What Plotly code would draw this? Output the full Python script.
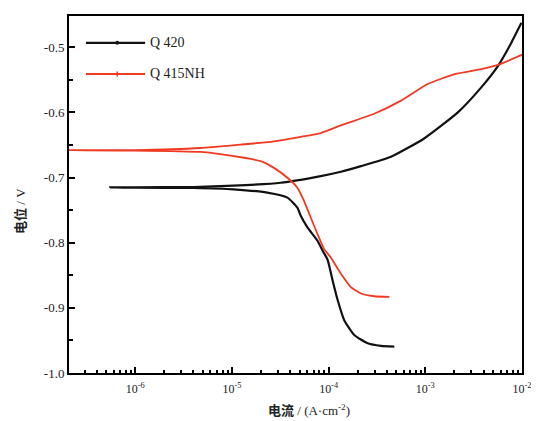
import plotly.graph_objects as go

# Q420 polarization curve: current density (A/cm^2) and potential (V)
q420_current = [4.78e-4, 3.48e-4, 2.54e-4, 1.84e-4, 1.45e-4, 1.24e-4, 1.10e-4, 9.75e-5,
                8.65e-5, 7.67e-5, 6.04e-5, 5.15e-5, 4.75e-5, 3.75e-5, 2.32e-5, 1.04e-5,
                4.0e-6, 1.0e-6, 5.5e-7, 1.0e-6, 4.0e-6, 1.04e-5, 3.19e-5, 8.30e-5,
                1.34e-4, 2.16e-4, 4.42e-4, 9.73e-4, 2.17e-3, 3.79e-3, 5.65e-3, 7.76e-3, 9.86e-3]
q420_potential = [-0.9595, -0.9584, -0.9543, -0.9416, -0.919, -0.888, -0.858, -0.826,
                  -0.812, -0.797, -0.7765, -0.7587, -0.746, -0.7308, -0.7232, -0.718,
                  -0.716, -0.7155, -0.7152, -0.7150, -0.7145, -0.7125, -0.708, -0.6977,
                  -0.691, -0.6825, -0.668, -0.640, -0.600, -0.5616, -0.5285, -0.493, -0.4625]

# Q415NH polarization curve
q415_current = [4.25e-4, 2.96e-4, 2.16e-4, 1.70e-4, 1.34e-4, 1.05e-4, 8.97e-5, 7.67e-5,
                6.53e-5, 5.57e-5, 4.75e-5, 3.75e-5, 2.72e-5, 1.98e-5, 1.05e-5, 4.72e-6,
                1.0e-6, 1.9e-7, 1.0e-6, 4.72e-6, 1.23e-5, 2.51e-5, 5.15e-5, 8.30e-5,
                1.34e-4, 2.96e-4, 5.61e-4, 1.06e-3, 2.01e-3, 3.79e-3, 5.65e-3, 1.03e-2]
q415_potential = [-0.8832, -0.8822, -0.878, -0.8681, -0.8476, -0.8223, -0.8095, -0.7866,
                  -0.7613, -0.7358, -0.7155, -0.7003, -0.6851, -0.6748, -0.6672, -0.6607,
                  -0.6585, -0.658, -0.6578, -0.6546, -0.6494, -0.6451, -0.6375, -0.6317,
                  -0.620, -0.6021, -0.5819, -0.5564, -0.5412, -0.5335, -0.527, -0.5107]

series_names = ["Q 420", "Q 415NH"]
y_tick_vals = [-1.0, -0.9, -0.8, -0.7, -0.6, -0.5]
y_tick_text = ["-1.0", "-0.9", "-0.8", "-0.7", "-0.6", "-0.5"]
y_minor_vals = [-0.95, -0.85, -0.75, -0.65, -0.55]
x_tick_vals = [1e-6, 1e-5, 1e-4, 1e-3, 1e-2]
x_tick_text = ["10<sup>-6</sup>", "10<sup>-5</sup>", "10<sup>-4</sup>", "10<sup>-3</sup>", "10<sup>-2</sup>"]
x_title = "<b>电流</b> / (A·cm<sup>-2</sup>)"
y_title = "<b>电位</b> / V"

BLACK = "#111111"
RED = "#f03a22"
SERIF = "Liberation Serif"
MIXED = "Liberation Serif, Noto Sans CJK SC"
colors = [BLACK, RED]
widths = [2.2, 1.8]

fig = go.Figure()
fig.add_trace(go.Scatter(x=q420_current, y=q420_potential, mode="lines", name=series_names[0],
                         line=dict(color=BLACK, width=2.2, shape="spline", smoothing=0.5),
                         showlegend=False))
fig.add_trace(go.Scatter(x=q415_current, y=q415_potential, mode="lines", name=series_names[1],
                         line=dict(color=RED, width=1.8, shape="spline", smoothing=0.5),
                         showlegend=False))

# legend drawn in plot-domain coordinates (top-left inside the frame)
legend_y = [0.925, 0.8376]
shapes = []
annotations = []
for name, col, w, ly in zip(series_names, colors, widths, legend_y):
    shapes.append(dict(type="line", xref="x domain", yref="y domain",
                       x0=0.0375, x1=0.168, y0=ly, y1=ly,
                       line=dict(color=col, width=w)))
    annotations.append(dict(text=name, xref="x domain", yref="y domain",
                            x=0.1744, y=ly, xanchor="left", yanchor="middle",
                            showarrow=False, font=dict(family=SERIF, size=14, color="#222222")))
# small symbols on legend lines
shapes.append(dict(type="circle", xref="x domain", yref="y domain",
                   x0=0.1025, x1=0.1105, y0=legend_y[0] - 0.0055, y1=legend_y[0] + 0.0055,
                   fillcolor=BLACK, line=dict(color=BLACK, width=0)))
shapes.append(dict(type="line", xref="x domain", yref="y domain",
                   x0=0.1065, x1=0.1065, y0=legend_y[1] - 0.007, y1=legend_y[1] + 0.007,
                   line=dict(color=RED, width=1.5)))

annotations.append(dict(text=x_title, xref="x domain", yref="y domain", x=0.53, y=-0.103,
                        xanchor="center", yanchor="middle", showarrow=False,
                        font=dict(family=MIXED, size=13, color="#222222")))
annotations.append(dict(text=y_title, xref="x domain", yref="y domain", x=-0.106, y=0.454,
                        xanchor="center", yanchor="middle", textangle=-90, showarrow=False,
                        font=dict(family=MIXED, size=13, color="#222222")))

fig.update_layout(
    width=539, height=421,
    margin=dict(l=61, r=25, t=6, b=56),
    paper_bgcolor="white", plot_bgcolor="white",
    font=dict(family=SERIF, size=13, color="#222222"),
    showlegend=False,
    shapes=shapes, annotations=annotations,
    xaxis=dict(type="log", range=[-6.685, -2.0],
               tickvals=x_tick_vals, ticktext=x_tick_text,
               ticks="inside", ticklen=6, tickwidth=1.5, tickcolor="black",
               ticklabelstandoff=4,
               showline=True, linecolor="black", linewidth=2, mirror=True,
               showgrid=False, zeroline=False,
               minor=dict(ticks="inside", ticklen=3, tickwidth=1.5, tickcolor="black",
                          dtick="D1", showgrid=False),
               tickfont=dict(family=SERIF, size=12)),
    yaxis=dict(range=[-1.0, -0.452],
               tickvals=y_tick_vals, ticktext=y_tick_text,
               ticks="inside", ticklen=6, tickwidth=1.5, tickcolor="black",
               showline=True, linecolor="black", linewidth=2, mirror=True,
               showgrid=False, zeroline=False,
               minor=dict(ticks="inside", ticklen=4, tickwidth=1.5, tickcolor="black",
                          tickvals=y_minor_vals, showgrid=False),
               tickfont=dict(family=SERIF, size=13)),
)

fig.write_html("out.html")
